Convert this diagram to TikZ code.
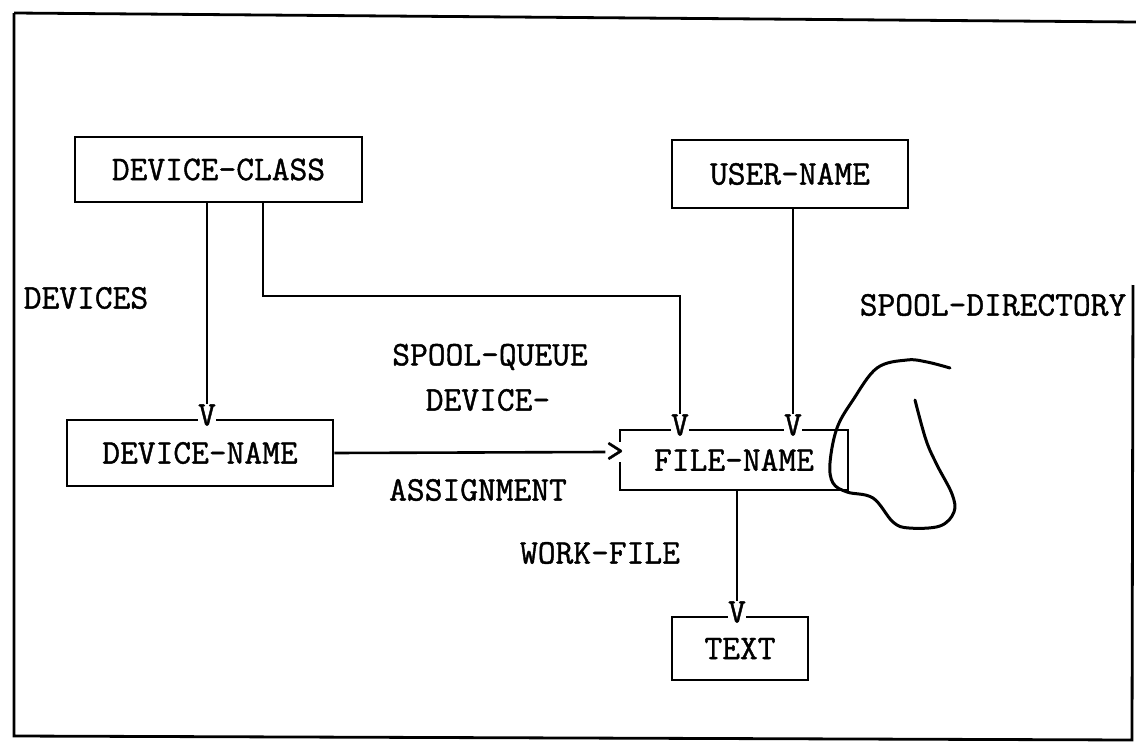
\documentclass[tikz,border=0pt]{standalone}
\usepackage{fontspec}
\setmonofont[FakeBold=1.2]{Latin Modern Mono}
\begin{document}
\begin{tikzpicture}[x=1pt,y=-1pt,
  tt/.style={font=\ttfamily\fontsize{34.5}{34.5}\selectfont},
  box/.style={tt, draw, line width=2.6pt, inner sep=0pt},
  lbl/.style={tt, inner sep=0pt},
  vmark/.style={tt, fill=white, inner sep=0.5pt},
  conn/.style={line width=2.6pt},
  frame/.style={line width=2.8pt},
  hand/.style={line width=3pt, line cap=round, line join=round}]
\useasboundingbox (0,0) rectangle (1136,744);
% frame
\draw[frame] (14,13) -- (1136,22);
\draw[frame] (14,13) -- (14,736) -- (1132,740) -- (1133,285);
% boxes
\node[box, minimum width=287pt, minimum height=65pt] (dc) at (218.5,169.5) {DEVICE-CLASS};
\node[box, minimum width=236pt, minimum height=68pt] (un) at (790,174) {USER-NAME};
\node[box, minimum width=266pt, minimum height=66pt] (dn) at (200,453) {DEVICE-NAME};
\node[box, minimum width=228pt, minimum height=60pt] (fn) at (734,460) {FILE-NAME};
\node[box, minimum width=136pt, minimum height=63pt] (tx) at (740,648.5) {TEXT};
% labels
\node[lbl] (ldev) at (86,298) {DEVICES};
\node[lbl] (lsq) at (490,357) {SPOOL-QUEUE};
\node[lbl] (lsd) at (993,305) {SPOOL-DIRECTORY};
\node[lbl] (lda) at (488,400) {DEVICE-};
\node[lbl] (las) at (478,490) {ASSIGNMENT};
\node[lbl] (lwf) at (600,553) {WORK-FILE};
% V marks
\node[vmark] (v1) at (207,415) {V};
\node[vmark] (v2) at (680,425) {V};
\node[vmark] (v3) at (793,425) {V};
\node[vmark] (v4) at (737,612) {V};
\node[vmark] (ar) at (615,452) {>};
% connectors
\coordinate (b1) at (263,296);
\coordinate (b2) at (680,296);
\draw[conn] (dc.south -| v1) -- (v1.north);
\draw[conn] (dc.south -| b1) -- (b1) -- (b2) -- (v2.north);
\draw[conn] (un.south -| v3) -- (v3.north);
\draw[conn] (dn.east) -- (ar.west);
\draw[conn] (fn.south -| v4) -- (v4.north);
% hand-drawn loop
\draw[hand] plot[smooth, tension=0.6] coordinates {(950,368) (927,362) (907,360) (877,368) (853,400) (837,428) (830,463) (833,483) (847,492) (873,498) (893,522) (909,528) (940,526) (954,512) (952,494) (937,465) (926,440) (915,400)};
\end{tikzpicture}
\end{document}
